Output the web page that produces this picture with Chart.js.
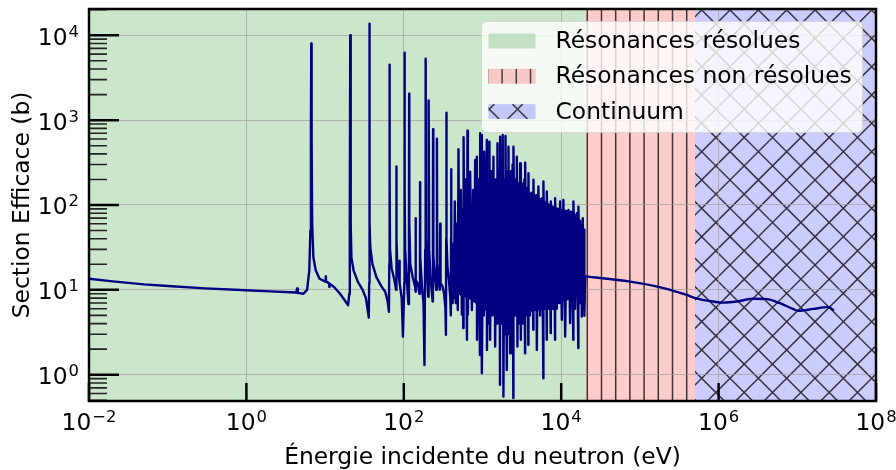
<!DOCTYPE html>
<html>
<head>
<meta charset="utf-8">
<script src="https://cdn.jsdelivr.net/npm/chart.js@4.4.0/dist/chart.umd.min.js"></script>
<style>
  html, body { margin: 0; padding: 0; background: #fff; }
</style>
</head>
<body>
<canvas id="c" width="896" height="470"></canvas>
<script>
// ---- données (énergie en eV, section efficace en barns) ----
const thermalPts = [
  [0.01, 13.5], [0.02, 12.6], [0.05, 11.6], [0.1, 11.1], [0.3, 10.4], [1, 9.9],
  [2, 9.6], [4.3, 9.3], [4.4, 10.4], [4.5, 9.2], [5.3, 9.0], [5.9, 10], [6.3, 17],
  [6.5, 50], [6.6, 600], [6.67, 8000], [6.74, 600], [6.85, 60], [7.1, 24], [7.6, 17],
  [8.5, 13.5], [10.1, 12.5], [10.2, 14.5], [10.3, 12.5], [11.2, 12], [11.3, 10.8],
  [11.4, 11.8], [13, 10.8], [15.5, 9], [18, 7.4], [19.6, 6.6], [20.3, 9], [20.6, 60],
  [20.87, 10000], [21.15, 60], [21.6, 24], [23, 17], [26, 12.5], [30, 10], [33, 8],
  [35.9, 4.7], [36.3, 12], [36.5, 60], [36.68, 13700], [36.95, 60], [37.5, 32],
  [40, 20], [45, 14], [52, 11], [58, 9.5], [62, 7.5], [64.8, 5.5], [65.4, 20],
  [65.8, 200], [66.0, 4500], [66.3, 200], [66.8, 30], [70, 18], [76, 13], [79.8, 10],
  [80.3, 40], [80.7, 285], [81.1, 40], [83, 16], [87, 14], [88, 22], [89, 12],
  [94, 8], [97.5, 2.8]
];
const resolvedPts = [
  [101.5, 12], [102.2, 200], [102.5, 6250], [102.8, 150], [104, 30], [108, 16],
  [112, 9], [114.5, 6.8], [116.3, 80], [116.9, 2050], [117.5, 60], [121, 20],
  [130, 14], [139, 11], [141, 9.5], [141.7, 70], [142.5, 13], [150, 12], [158, 9],
  [160.5, 30], [161, 186], [161.6, 25], [170, 11], [178, 7], [183, 1.3], [187, 30],
  [189.5, 5300], [191.5, 40], [198, 16], [204, 8.3], [206, 40], [207.5, 1710],
  [210, 30], [218, 14], [228, 9], [232, 7.3], [234.5, 80], [235.5, 780], [237.5, 25],
  [250, 14], [258, 10], [263, 100], [264, 605], [266, 20], [278, 13], [287, 10],
  [290, 60], [293, 12], [310, 11], [325, 9], [338, 6], [343, 2.95], [346, 40],
  [347.5, 1225], [350, 40], [360, 18], [375, 13], [390, 8], [396, 5], [398.5, 40],
  [400, 264], [402, 30], [410, 12], [418, 7]
];
const densePts = [
  [425, 35], [432, 8], [445, 110], [458, 7], [470, 60], [485, 5.8], [495, 454],
  [510, 9], [530, 150], [547, 5.1], [560, 90], [570, 3.54], [575, 629], [590, 10],
  [610, 200], [635, 2.58], [644, 752], [652, 5.1], [675, 120], [688, 8], [697, 247],
  [733, 5.8], [760, 150], [790, 9], [807, 340], [830, 12], [848, 371], [852, 2.58],
  [890, 200], [928, 1.71], [934, 701], [960, 20], [978, 670], [985, 1.04], [1020, 90],
  [1040, 5], [1050, 426], [1100, 6], [1135, 585], [1140, 1.96], [1190, 150],
  [1215, 4], [1225, 558], [1250, 2.58], [1300, 250], [1340, 5], [1377, 371],
  [1410, 6], [1420, 200], [1448, 2.15], [1500, 160], [1530, 4], [1549, 535],
  [1600, 5], [1640, 250], [1668, 0.76], [1675, 640], [1740, 4], [1780, 300],
  [1800, 5], [1813, 670], [1845, 0.553], [1900, 200], [1940, 3], [1959, 652],
  [2037, 1.14], [2090, 250], [2120, 4], [2139, 487], [2180, 3], [2210, 220],
  [2244, 1.79], [2300, 250], [2360, 4], [2410, 300], [2465, 0.53], [2473, 487],
  [2600, 5], [2650, 200], [2700, 6], [2730, 371], [2780, 2.15], [2850, 180],
  [2920, 4], [3008, 310], [3070, 2.58], [3200, 180], [3300, 4], [3400, 200],
  [3470, 1.79], [3483, 316], [3650, 5], [3750, 160], [3820, 2.25], [3837, 237],
  [4000, 5], [4200, 140], [4420, 3.38], [4440, 198], [4700, 6], [4800, 130],
  [4900, 1.96], [5135, 165], [5400, 5], [5700, 120], [5930, 0.91], [5945, 189],
  [6200, 6], [6400, 100], [6550, 2.58], [6565, 144], [6900, 6], [7100, 90],
  [7350, 3.09], [7380, 110], [7800, 6], [8100, 80], [8350, 2.58], [8370, 120],
  [8800, 6], [9300, 90], [9500, 7], [9690, 110], [10180, 4.43], [10670, 115],
  [11220, 2.82], [11800, 80], [12350, 87.5], [12970, 4.06], [13500, 70],
  [14250, 2.58], [14300, 110], [15000, 6], [15800, 80], [16500, 2.06], [16550, 95.7],
  [17300, 7], [18000, 60], [18280, 4.85], [18800, 70], [19200, 6], [19550, 51],
  [19700, 4.94], [20200, 14.4]
];
const continuumPts = [
  [20200, 14.4], [75000, 12.5], [200000, 10.5], [394000, 8.7], [502000, 8.0],
  [860000, 7.28], [1150000, 7.08], [1700000, 7.28], [2770000, 7.84], [4100000, 7.78],
  [6000000, 6.97], [8900000, 5.93], [10300000, 5.66], [16000000, 5.97],
  [24800000, 6.25], [29300000, 5.7]
];
// bande pleine de la zone dense (enveloppe du coeur)
const coreEnergy = [430, 480, 550, 650, 800, 1000, 1300, 1700, 2300, 3000, 4000, 5500, 7500, 10000, 14000, 19550];
const coreTop    = [25, 50, 80, 90, 110, 150, 200, 214, 200, 170, 140, 120, 100, 90, 85, 60];
const coreBottom = [10, 9, 8.3, 8, 7, 6, 5, 4.8, 4.8, 5, 5.5, 5.8, 6.5, 7, 8, 8.5];

const regionBounds = [1e-2, 2e4, 5e5, 1e8];
const regionLabels = ['Résonances résolues', 'Résonances non résolues', 'Continuum'];
const regionColors = ['rgba(0,128,0,0.2)', 'rgba(255,0,0,0.2)', 'rgba(0,0,255,0.2)'];
const regionHatch  = [null, '|', 'x'];

const xTicks = [1e-2, 1e0, 1e2, 1e4, 1e6, 1e8];
const yTicks = [1e0, 1e1, 1e2, 1e3, 1e4];

// ---- helpers ----
const FS = 23.4, FS_EXP = 16.4;
const FONT = '"DejaVu Sans"';
const toXY = pts => pts.map(([e, s]) => ({x: e, y: s}));
const expOf = v => String(Math.round(Math.log10(v))).replace('-', '\u2212');

const V_STEP = 14.2, V_PHASE = 587.3;
const D_STEP = 28.33, D_PHASE1 = 691.7, D_PHASE2 = 711.7;

function hatch(ctx, kind, x, y, w, h, color) {
  if (!kind) return;
  ctx.save();
  ctx.beginPath(); ctx.rect(x, y, w, h); ctx.clip();
  ctx.strokeStyle = color; ctx.lineWidth = 1.5;
  ctx.beginPath();
  if (kind === '|') {
    for (let px = V_PHASE + Math.floor((x - V_PHASE) / V_STEP) * V_STEP; px <= x + w; px += V_STEP) {
      ctx.moveTo(px, y); ctx.lineTo(px, y + h);
    }
  } else {
    let lo = x - (y + h), hi = x + w - y;
    for (let c = D_PHASE1 + Math.floor((lo - D_PHASE1) / D_STEP) * D_STEP; c <= hi; c += D_STEP) {
      ctx.moveTo(c + y, y); ctx.lineTo(c + y + h, y + h);
    }
    lo = x + y; hi = x + w + y + h;
    for (let c = D_PHASE2 + Math.floor((lo - D_PHASE2) / D_STEP) * D_STEP; c <= hi; c += D_STEP) {
      ctx.moveTo(c - y, y); ctx.lineTo(c - y - h, y + h);
    }
  }
  ctx.stroke();
  ctx.restore();
}

// "10" + exposant, façon mathtext ; align: 'center' ou 'right'
function powLabel(ctx, v, x, baseY, align) {
  const e = expOf(v);
  ctx.font = FS + 'px ' + FONT;
  const wb = ctx.measureText('10').width;
  ctx.font = FS_EXP + 'px ' + FONT;
  const we = ctx.measureText(e).width;
  const x0 = align === 'right' ? x - wb - we - 1 : x - (wb + we + 1) / 2;
  ctx.font = FS + 'px ' + FONT;
  ctx.fillText('10', x0, baseY);
  ctx.font = FS_EXP + 'px ' + FONT;
  ctx.fillText(e, x0 + wb + 1, baseY - 8);
}

// zones colorées derrière la grille
const regions = {
  id: 'regions',
  beforeDraw(chart) {
    const {ctx, chartArea: a, scales: {x}} = chart;
    for (let i = 0; i < regionLabels.length; i++) {
      const x0 = x.getPixelForValue(regionBounds[i]);
      const x1 = x.getPixelForValue(regionBounds[i + 1]);
      ctx.fillStyle = regionColors[i];
      ctx.fillRect(x0, a.top, x1 - x0, a.bottom - a.top);
      hatch(ctx, regionHatch[i], x0, a.top, x1 - x0, a.bottom - a.top, 'rgba(0,0,0,0.75)');
    }
  }
};

// cadre, graduations vers l'intérieur et libellés des puissances de 10
const frame = {
  id: 'frame',
  afterDatasetsDraw(chart) {
    const {ctx, chartArea: a, scales: {x, y}} = chart;
    ctx.save();
    ctx.strokeStyle = '#000';
    ctx.lineWidth = 2.5;
    ctx.beginPath();
    yTicks.forEach(v => { const py = y.getPixelForValue(v); ctx.moveTo(a.left, py); ctx.lineTo(a.left + 30, py); });
    xTicks.forEach(v => { const px = x.getPixelForValue(v); ctx.moveTo(px, a.bottom); ctx.lineTo(px, a.bottom - 18); });
    ctx.stroke();
    ctx.lineWidth = 1.6;
    ctx.strokeStyle = '#222';
    ctx.beginPath();
    for (let d = -1; d <= 4; d++) {
      for (let m = 2; m <= 9; m++) {
        const v = m * Math.pow(10, d);
        if (v < y.min || v > y.max) continue;
        const py = y.getPixelForValue(v);
        ctx.moveTo(a.left, py); ctx.lineTo(a.left + 18, py);
      }
    }
    ctx.stroke();
    ctx.strokeStyle = '#000';
    ctx.lineWidth = 2.5;
    ctx.strokeRect(a.left, a.top, a.right - a.left, a.bottom - a.top);

    ctx.fillStyle = '#000';
    ctx.textBaseline = 'alphabetic';
    ctx.textAlign = 'left';
    yTicks.forEach(v => powLabel(ctx, v, a.left - 10, y.getPixelForValue(v) + 9.5, 'right'));
    xTicks.forEach(v => powLabel(ctx, v, x.getPixelForValue(v), a.bottom + 28.5, 'center'));
    ctx.restore();
  }
};

// légende encadrée, en haut à droite
const boxLegend = {
  id: 'boxLegend',
  afterDraw(chart) {
    const {ctx, chartArea: a} = chart;
    const w = 381, h = 111, bx = a.right - 13.5 - w, by = a.top + 12.5;
    ctx.save();
    ctx.beginPath();
    ctx.roundRect(bx, by, w, h, 5);
    ctx.fillStyle = 'rgba(255,255,255,0.8)';
    ctx.fill();
    ctx.strokeStyle = 'rgba(210,210,210,0.8)';
    ctx.lineWidth = 1;
    ctx.stroke();
    ctx.font = FS + 'px ' + FONT;
    ctx.textBaseline = 'middle';
    regionLabels.forEach((lab, i) => {
      const cy = by + 19.5 + i * 35.3;
      const px = bx + 7, pw = 47, ph = 15;
      ctx.fillStyle = regionColors[i];
      ctx.fillRect(px, cy - ph / 2, pw, ph);
      hatch(ctx, regionHatch[i], px, cy - ph / 2, pw, ph, 'rgba(0,0,0,0.7)');
      ctx.fillStyle = '#000';
      ctx.fillText(lab, bx + 74, cy + 1);
    });
    ctx.restore();
  }
};

Chart.defaults.font.family = '"DejaVu Sans", sans-serif';
Chart.defaults.color = '#000';

new Chart(document.getElementById('c'), {
  type: 'line',
  data: {
    datasets: [
      {data: toXY(thermalPts.concat(resolvedPts, densePts)), borderColor: '#000080', borderWidth: 2.4,
       pointRadius: 0, tension: 0, borderJoinStyle: 'round', fill: false},
      {data: toXY(continuumPts), borderColor: '#000080', borderWidth: 2.4,
       pointRadius: 0, tension: 0.4, cubicInterpolationMode: 'monotone', fill: false},
      {data: coreEnergy.map((e, i) => ({x: e, y: coreTop[i]})), borderWidth: 0, pointRadius: 0, fill: false},
      {data: coreEnergy.map((e, i) => ({x: e, y: coreBottom[i]})), borderWidth: 0, pointRadius: 0,
       fill: 2, backgroundColor: '#000080'}
    ]
  },
  options: {
    responsive: false,
    animation: false,
    layout: {padding: {left: 0, top: 9, right: 20, bottom: 0}},
    plugins: {legend: {display: false}, tooltip: {enabled: false}},
    scales: {
      x: {
        type: 'logarithmic', min: 1e-2, max: 1e8,
        afterBuildTicks: s => { s.ticks = xTicks.map(v => ({value: v})); },
        afterFit: s => { s.height = 69; s.paddingLeft = 0; s.paddingRight = 0; },
        ticks: {display: false},
        grid: {color: 'rgba(160,160,160,0.7)', lineWidth: 1, drawTicks: false},
        border: {display: false},
        title: {display: true, text: 'Énergie incidente du neutron (eV)', font: {size: FS}, padding: {top: 0, bottom: -2}}
      },
      y: {
        type: 'logarithmic', min: 0.49, max: 2.04e4,
        afterBuildTicks: s => { s.ticks = yTicks.map(v => ({value: v})); },
        afterFit: s => { s.width = 89; s.paddingTop = 0; s.paddingBottom = 0; },
        ticks: {display: false},
        grid: {color: 'rgba(160,160,160,0.7)', lineWidth: 1, drawTicks: false},
        border: {display: false},
        title: {display: true, text: 'Section Efficace (b)', font: {size: FS}, padding: {top: 9, bottom: 0}}
      }
    }
  },
  plugins: [regions, frame, boxLegend]
});
</script>
</body>
</html>
